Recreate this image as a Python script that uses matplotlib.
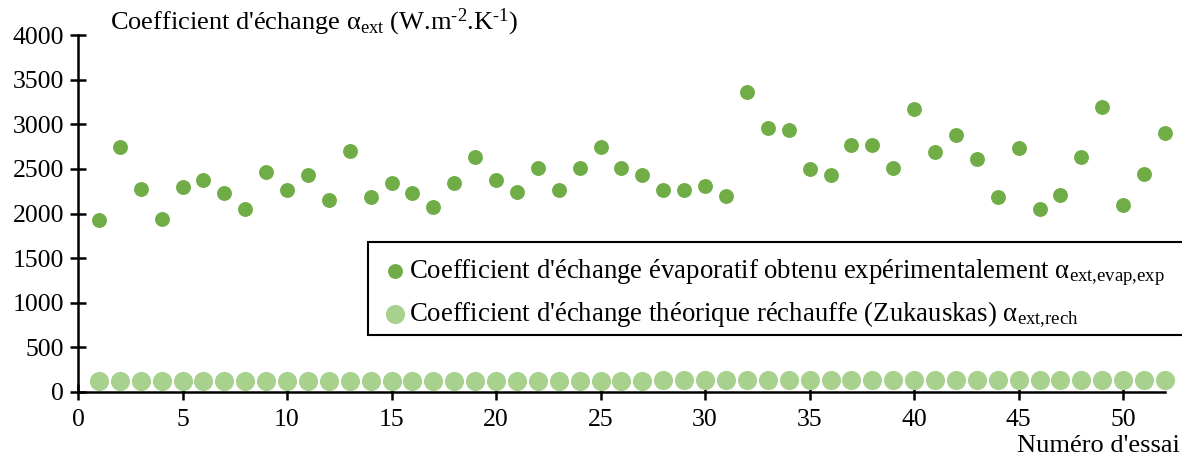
import matplotlib
matplotlib.use("Agg")
import matplotlib.pyplot as plt
from matplotlib.patches import Rectangle

# essais
essais = list(range(1, 53))

# coefficient evaporatif experimental (W.m-2.K-1)
alpha_evap = [1930, 2745, 2275, 1938, 2300, 2375, 2228, 2048, 2465, 2258,
              2431, 2150, 2695, 2183, 2347, 2225, 2071, 2342, 2633, 2370,
              2241, 2505, 2261, 2512, 2742, 2513, 2428, 2267, 2263, 2308,
              2200, 3358, 2955, 2940, 2499, 2428, 2770, 2770, 2507, 3168,
              2684, 2884, 2611, 2182, 2734, 2053, 2205, 2631, 3196, 2098,
              2443, 2897]

# coefficient theorique rechauffe (Zukauskas)
alpha_rech = [118, 118, 119, 119, 120, 120, 120, 121, 121, 122,
              122, 122, 123, 123, 124, 124, 124, 125, 125, 126,
              126, 126, 127, 127, 128, 128, 128, 129, 129, 130,
              130, 130, 131, 131, 132, 132, 132, 133, 133, 134,
              134, 134, 135, 135, 136, 136, 136, 137, 137, 138,
              138, 138]

label_evap = "Coefficient d'échange évaporatif obtenu expérimentalement α$_{\\mathrm{ext{,}evap{,}exp}}$"
label_rech = "Coefficient d'échange théorique réchauffe (Zukauskas) α$_{\\mathrm{ext{,}rech}}$"
titre = "Coefficient d'échange α$_{\\mathrm{ext}}$ (W.m$^{\\mathrm{\u2010}2}$.K$^{\\mathrm{\u2010}1}$)"

plt.rcParams["font.family"] = ["Liberation Serif", "DejaVu Serif"]
plt.rcParams["mathtext.fontset"] = "custom"
plt.rcParams["mathtext.rm"] = "Liberation Serif"
plt.rcParams["mathtext.it"] = "Liberation Serif:italic"

fig = plt.figure(figsize=(11.82, 4.59), dpi=100)
ax = fig.add_axes([0.066, 0.146, 0.9196, 0.7777])

ax.scatter(essais, alpha_evap, s=115, color="#70AD47", label=label_evap,
           zorder=3, clip_on=False, linewidths=0)
ax.scatter(essais, alpha_rech, s=190, color="#A9D18E", label=label_rech,
           zorder=3, clip_on=False, linewidths=0)

ax.set_xlim(0, 52)
ax.set_ylim(0, 4000)
ax.set_xticks(range(0, 51, 5))
ax.set_yticks(range(0, 4001, 500))

for side in ["top", "right"]:
    ax.spines[side].set_visible(False)
for side in ["left", "bottom"]:
    ax.spines[side].set_linewidth(1.8)
    ax.spines[side].set_color("black")

ax.tick_params(axis="both", direction="inout", length=12, width=1.8,
               labelsize=18.5, colors="black")
ax.tick_params(axis="y", pad=4)
ax.tick_params(axis="x", pad=6)

fig.text(0.093, 0.935, titre, fontsize=19, ha="left", va="baseline")
fig.text(0.998, 0.015, "Numéro d'essai", fontsize=19, ha="right", va="baseline")

# legend box runs past the right edge of the figure, as in the original
cadre = Rectangle((368 / 1182, 1 - 335 / 459), 0.72, 93 / 459,
                  transform=fig.transFigure, facecolor="white",
                  edgecolor="black", linewidth=1.5, zorder=4, clip_on=False)
ax.add_patch(cadre)

leg = ax.legend(loc="upper left", bbox_to_anchor=(0.3214, 0.440),
                bbox_transform=fig.transFigure, fontsize=19.3, frameon=False,
                handletextpad=0.0, handlelength=1.1, borderpad=0.0,
                labelspacing=0.45, borderaxespad=0)
leg.set_zorder(5)

fig.savefig("out.png", dpi=100)
